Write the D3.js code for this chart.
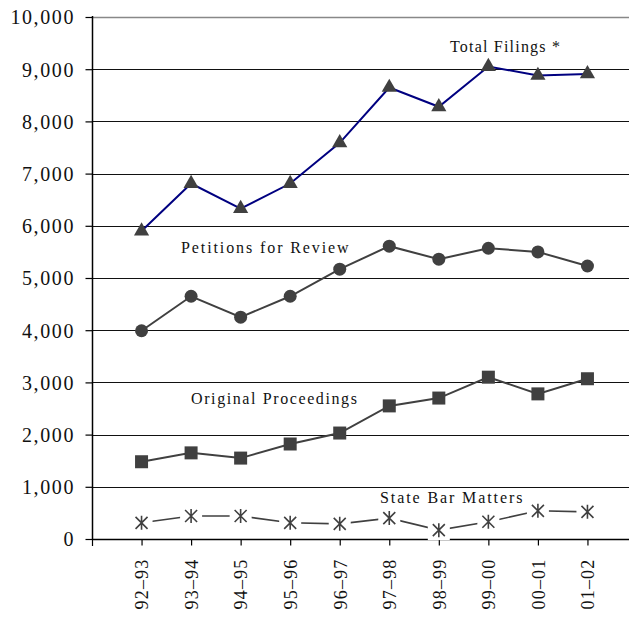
<!DOCTYPE html>
<html>
<head>
<meta charset="utf-8">
<script src="https://cdn.jsdelivr.net/npm/d3@7"></script>
<style>
  body { margin: 0; background: #fff; }
  svg { display: block; }
  text { font-family: "Liberation Serif", "Times New Roman", serif; }
</style>
</head>
<body>
<svg id="chart" width="629" height="617"></svg>
<script>
var width = 629;
var height = 617;

// data
var years = ["92\u201393", "93\u201394", "94\u201395", "95\u201396", "96\u201397",
             "97\u201398", "98\u201399", "99\u201300", "00\u201301", "01\u201302"];
var totalFilings = [5900, 6810, 6330, 6810, 7590, 8650, 8280, 9050, 8880, 8910];
var petitions = [3990, 4650, 4250, 4650, 5170, 5610, 5360, 5570, 5500, 5230];
var originals = [1480, 1650, 1550, 1820, 2030, 2550, 2700, 3100, 2780, 3070];
var stateBar = [310, 440, 440, 310, 290, 400, 170, 330, 540, 520];
var yTicks = [0, 1000, 2000, 3000, 4000, 5000, 6000, 7000, 8000, 9000, 10000];

var x = d3.scalePoint().domain(years).range([92, 637]).padding(1);
var y = d3.scaleLinear().domain([0, 10000]).range([539, 17]);

var svg = d3.select("#chart");

// gridlines
svg.append("g").selectAll("line")
  .data(yTicks.slice(1))
  .join("line")
  .attr("x1", 92).attr("x2", width)
  .attr("y1", d => Math.round(y(d)) + 0.5)
  .attr("y2", d => Math.round(y(d)) + 0.5)
  .attr("stroke", d => d == 10000 ? "#888" : "#111")
  .attr("stroke-width", d => d == 10000 ? 1.5 : 1);

// y axis
var yAxis = svg.append("g")
  .attr("transform", "translate(92.5,0)")
  .call(d3.axisLeft(y).tickValues(yTicks).tickSize(7).tickFormat(d3.format(",")));
yAxis.attr("font-family", "Liberation Serif").attr("font-size", 20);
yAxis.select(".domain").remove();
yAxis.selectAll(".tick line").attr("stroke", "#000").attr("stroke-width", 1.2);
yAxis.selectAll(".tick text")
  .attr("x", -17.5)
  .attr("dy", "0.34em")
  .attr("fill", "#111")
  .style("letter-spacing", "1.6px");
svg.append("line")
  .attr("x1", 92.5).attr("x2", 92.5).attr("y1", 16).attr("y2", 540)
  .attr("stroke", "#000").attr("stroke-width", 1.5);

// x axis
var xAxis = svg.append("g")
  .attr("transform", "translate(0,539.5)")
  .call(d3.axisBottom(x).tickSize(6).tickSizeOuter(0));
xAxis.attr("font-family", "Liberation Serif").attr("font-size", 18);
xAxis.select(".domain").remove();
xAxis.selectAll(".tick line").attr("stroke", "#000").attr("stroke-width", 1.2);
xAxis.selectAll(".tick text")
  .attr("transform", "rotate(-90)")
  .attr("x", -19).attr("y", 0).attr("dy", "0.35em")
  .attr("text-anchor", "end")
  .attr("fill", "#111")
  .style("letter-spacing", "1.2px");
svg.append("line")
  .attr("x1", 92).attr("x2", width).attr("y1", 539.5).attr("y2", 539.5)
  .attr("stroke", "#000").attr("stroke-width", 1.5);
svg.append("line")
  .attr("x1", 92.5).attr("x2", 92.5).attr("y1", 539).attr("y2", 546)
  .attr("stroke", "#000").attr("stroke-width", 1.2);

var line = d3.line().x((d, i) => x(years[i])).y(d => y(d));

// series lines
svg.append("path").datum(totalFilings).attr("d", line)
  .attr("fill", "none").attr("stroke", "#000080").attr("stroke-width", 2);
svg.append("path").datum(petitions).attr("d", line)
  .attr("fill", "none").attr("stroke", "#404040").attr("stroke-width", 2);
svg.append("path").datum(originals).attr("d", line)
  .attr("fill", "none").attr("stroke", "#404040").attr("stroke-width", 2);
svg.append("path").datum(stateBar).attr("d", line)
  .attr("fill", "none").attr("stroke", "#404040").attr("stroke-width", 1.6);

var markColor = "#404040";

// triangles
svg.append("g").selectAll("path")
  .data(totalFilings)
  .join("path")
  .attr("transform", (d, i) => `translate(${x(years[i])},${y(d)})`)
  .attr("d", d3.symbol(d3.symbolTriangle, 100))
  .attr("fill", markColor);

// circles
svg.append("g").selectAll("circle")
  .data(petitions)
  .join("circle")
  .attr("cx", (d, i) => x(years[i]))
  .attr("cy", d => y(d))
  .attr("r", 6.5)
  .attr("fill", markColor);

// squares
svg.append("g").selectAll("rect")
  .data(originals)
  .join("rect")
  .attr("x", (d, i) => x(years[i]) - 6.5)
  .attr("y", d => y(d) - 6.5)
  .attr("width", 13).attr("height", 13)
  .attr("fill", markColor);

// stars with white backing
var star = svg.append("g").selectAll("g")
  .data(stateBar)
  .join("g")
  .attr("transform", (d, i) => `translate(${x(years[i])},${y(d)})`);
star.append("rect")
  .attr("x", -11).attr("y", -10).attr("width", 22).attr("height", 20)
  .attr("fill", "#fff");
star.append("path")
  .attr("d", "M-6,-6L6,6M-6,6L6,-6M0,-7L0,7")
  .attr("stroke", markColor).attr("stroke-width", 1.6).attr("fill", "none");

// series labels
var labels = [
  { text: "Total Filings *", x: 450, y: 52, ls: 1.2 },
  { text: "Petitions for Review", x: 181, y: 253, ls: 1.9 },
  { text: "Original Proceedings", x: 191, y: 404, ls: 1.6 },
  { text: "State Bar Matters", x: 380, y: 503, ls: 1.9 }
];
svg.append("g").selectAll("text")
  .data(labels)
  .join("text")
  .attr("x", d => d.x).attr("y", d => d.y)
  .attr("fill", "#111")
  .style("font-size", "16px")
  .style("letter-spacing", d => d.ls + "px")
  .text(d => d.text);
</script>
</body>
</html>
